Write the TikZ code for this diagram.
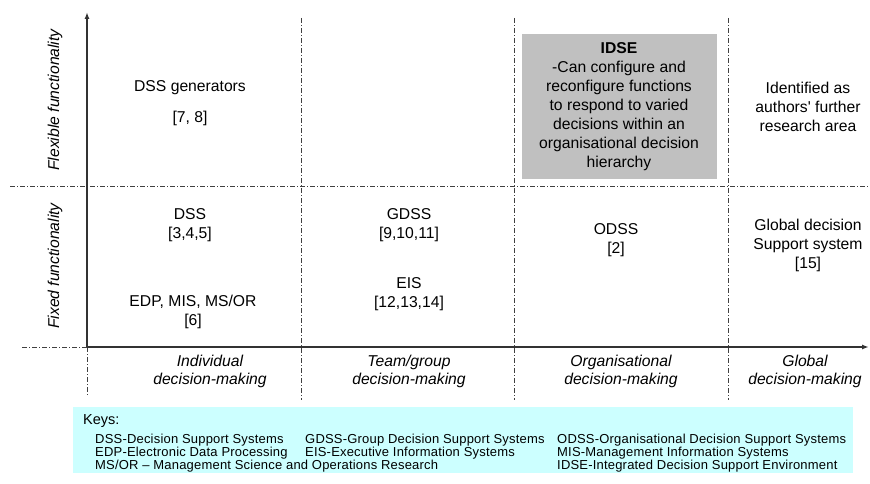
\documentclass[tikz,border=0pt]{standalone}
\usepackage{fontspec}
\setmainfont{Liberation Sans}
\newfontfamily\keyfont[LetterSpace=1.5]{Liberation Sans}
\newfontfamily\plainfont{Liberation Sans}
\usetikzlibrary{arrows.meta}
\definecolor{idsegray}{HTML}{C0C0C0}
\definecolor{keycyan}{HTML}{CCFFFF}
\tikzset{
  gridline/.style={dash pattern=on 5pt off 2pt on 1pt off 2pt, line width=0.8pt, black!75},
  axisline/.style={line width=1.4pt, black!80, -{Latex[length=7pt,width=5pt]}},
  cell/.style={align=center, font=\fontsize{15.7}{19}\selectfont, inner sep=0pt},
  axlabel/.style={align=center, font=\fontsize{15.7}{18}\selectfont\itshape, inner sep=0pt},
  keyrow/.style={anchor=west, font=\keyfont\fontsize{13}{13}\selectfont, inner sep=0pt},
}
\begin{document}
\begin{tikzpicture}[x=1pt,y=-1pt]
\useasboundingbox (0,0) rectangle (870,484);
% boxes
\fill[idsegray] (522,34) rectangle (717,179);
\fill[keycyan] (73,407) rectangle (853,473);
% grid coordinates
\coordinate (o) at (87,347);
\coordinate (ytop) at (87,12);
\coordinate (xend) at (869,347);
\coordinate (hl) at (10,186);
\coordinate (hr) at (870,186);
\coordinate (bl) at (22,347);
\coordinate (v1t) at (301,18); \coordinate (v1b) at (301,400);
\coordinate (v2t) at (514,18); \coordinate (v2b) at (514,400);
\coordinate (v3t) at (728,18); \coordinate (v3b) at (728,400);
\coordinate (v0b) at (87,395);
\draw[gridline] (hl) -- (hr);
\draw[gridline] (bl) -- (o);
\draw[gridline] (v1t) -- (v1b);
\draw[gridline] (v2t) -- (v2b);
\draw[gridline] (v3t) -- (v3b);
\draw[gridline] (o) -- (v0b);
\draw[axisline] (o) -- (ytop);
\draw[axisline] (o) -- (xend);
% axis labels
\node[axlabel, rotate=90] (flex) at (55,100) {Flexible functionality};
\node[axlabel, rotate=90] (fixed) at (55,266) {Fixed functionality};
\node[axlabel] (ind) at (210,371) {Individual\\decision-making};
\node[axlabel] (team) at (409,371) {Team/group\\decision-making};
\node[axlabel] (org) at (621,371) {Organisational\\decision-making};
\node[axlabel] (glob) at (805,371) {Global\\decision-making};
% cells
\node[cell] (gen) at (190,88) {DSS generators};
\node[cell] (gencite) at (190,118) {[7, 8]};
\node[cell] (dss) at (190,225) {DSS\\{}[3,4,5]};
\node[cell] (edp) at (193,312) {EDP, MIS, MS/OR\\{}[6]};
\node[cell] (gdss) at (409,225) {GDSS\\{}[9,10,11]};
\node[cell] (eis) at (409,294) {EIS\\{}[12,13,14]};
\node[cell] (odss) at (616,240) {ODSS\\{}[2]};
\node[cell] (gds) at (808,245) {Global decision\\Support system\\{}[15]};
\node[cell] (ident) at (808,107) {\plainfont Identified as\\\plainfont authors' further\\\plainfont research area};
\node[cell] (idse) at (619,107) {\textbf{IDSE}\\-Can configure and\\reconfigure functions\\to respond to varied\\decisions within an\\organisational decision\\hierarchy};
% keys
\node[anchor=west, inner sep=0pt, font=\fontsize{14.5}{15}\selectfont] (keys) at (83,421) {Keys:};
\node[keyrow] (k11) at (95,440) {DSS-Decision Support Systems};
\node[keyrow] (k12) at (305,440) {GDSS-Group Decision Support Systems};
\node[keyrow] (k13) at (557,440) {ODSS-Organisational Decision Support Systems};
\node[keyrow] (k21) at (95,453) {EDP-Electronic Data Processing};
\node[keyrow] (k22) at (305,453) {EIS-Executive Information Systems};
\node[keyrow] (k23) at (557,453) {MIS-Management Information Systems};
\node[keyrow] (k31) at (95,466) {MS/OR – Management Science and Operations Research};
\node[keyrow] (k33) at (557,466) {IDSE-Integrated Decision Support Environment};
\end{tikzpicture}
\end{document}
